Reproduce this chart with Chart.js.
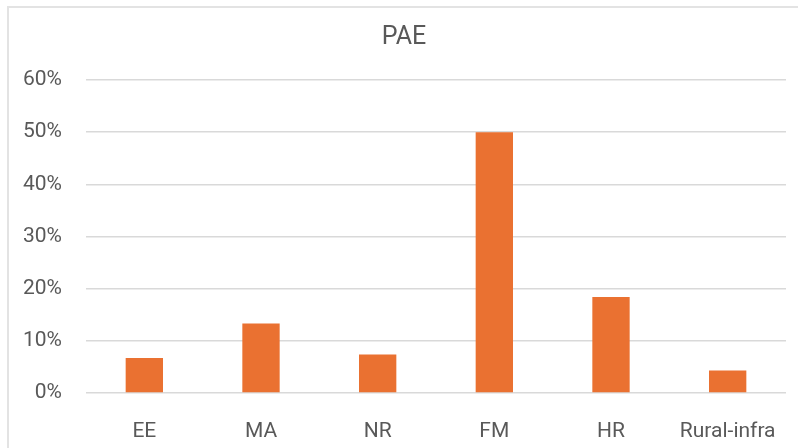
<!DOCTYPE html>
<html>
<head>
<meta charset="utf-8">
<script src="https://cdn.jsdelivr.net/npm/chart.js@4/dist/chart.umd.min.js"></script>
<style>
  html, body { margin: 0; padding: 0; background: #fff; overflow: hidden; }
  #wrap { position: relative; width: 798px; height: 448px; }
  #frame {
    position: absolute; left: 7px; top: 6px; width: 820px; height: 470px;
    border: 2px solid #e3e3e3; box-sizing: border-box;
  }
  canvas { position: absolute; left: 0; top: 0; }
</style>
</head>
<body>
<div id="wrap">
  <div id="frame"></div>
  <canvas id="chart" width="798" height="448"></canvas>
</div>
<script>
// chart data
const categories = ['EE', 'MA', 'NR', 'FM', 'HR', 'Rural-infra'];
const shares = [6.7, 13.3, 7.4, 50, 18.4, 4.3];   // percent
const yTicks = [0, 10, 20, 30, 40, 50, 60];

const FONT = 'Roboto, "Open Sans", sans-serif';
const TEXT = '#595959';

const ctx = document.getElementById('chart').getContext('2d');
new Chart(ctx, {
  type: 'bar',
  data: {
    labels: categories,
    datasets: [{
      label: 'PAE',
      data: shares,
      backgroundColor: '#ea7131',
      categoryPercentage: 1,
      barPercentage: 0.32
    }]
  },
  options: {
    responsive: false,
    animation: false,
    // left padding pushes the title centre over the frame, y axis width makes up for it
    layout: { padding: { left: 22, right: 12, top: 0, bottom: 0 } },
    plugins: {
      legend: { display: false },
      tooltip: { enabled: false },
      title: {
        display: true,
        text: 'PAE',
        color: TEXT,
        font: { family: FONT, size: 25, weight: 'normal' },
        padding: { top: 23, bottom: 27 }
      }
    },
    scales: {
      x: {
        grid: { display: false },
        border: { display: false },
        ticks: { color: TEXT, font: { family: FONT, size: 21 }, padding: 18, maxRotation: 0 },
        afterFit: s => { s.height = 55; }
      },
      y: {
        min: 0,
        max: 60,
        afterBuildTicks: s => { s.ticks = yTicks.map(v => ({ value: v })); },
        grid: { color: '#d9d9d9', lineWidth: 1.5, drawTicks: false },
        border: { display: false },
        ticks: {
          color: TEXT,
          font: { family: FONT, size: 21 },
          padding: 24,
          callback: v => v + '%'
        },
        afterFit: s => { s.width = 64; }
      }
    }
  }
});
</script>
</body>
</html>
